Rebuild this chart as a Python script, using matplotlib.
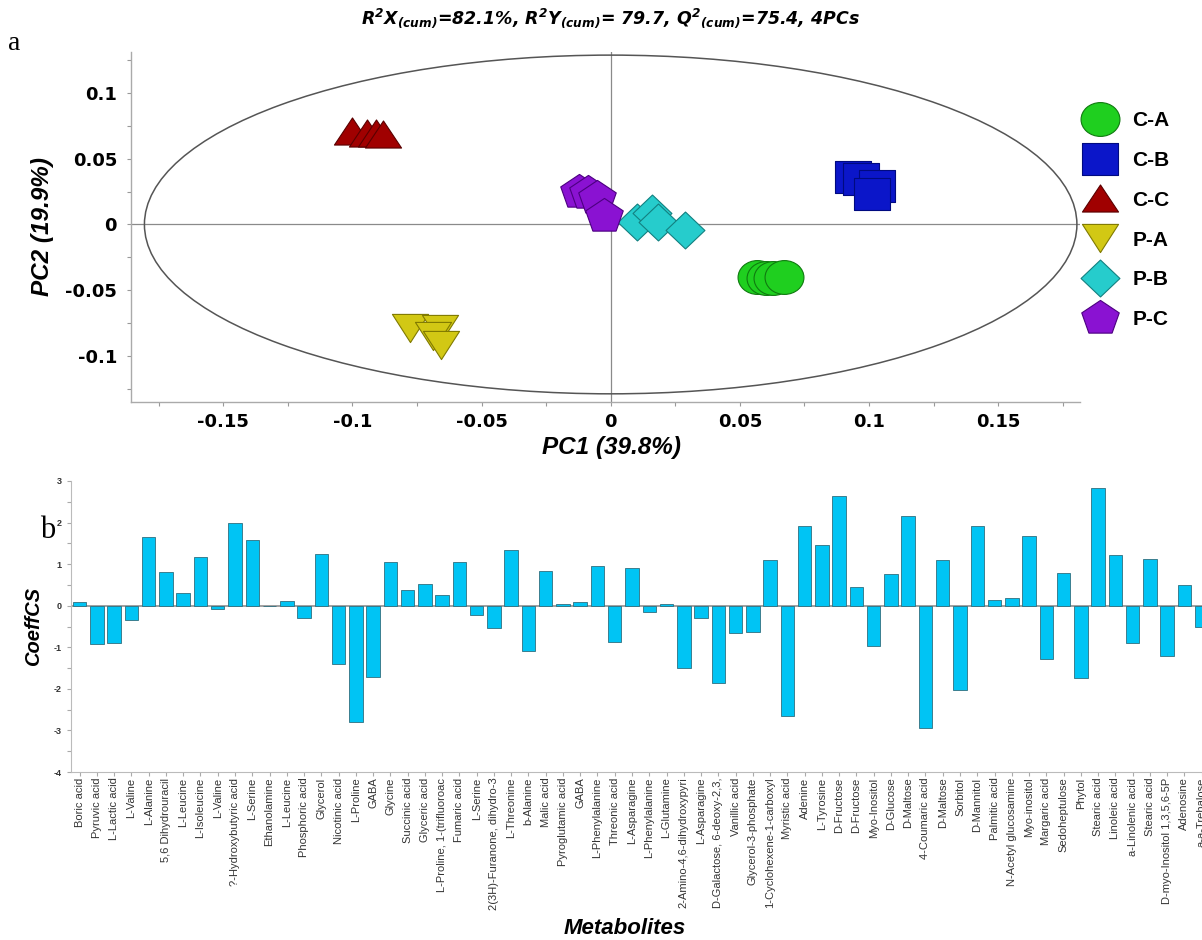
import numpy as np
import matplotlib
matplotlib.use('Agg')
import matplotlib.pyplot as plt
from matplotlib.path import Path
from matplotlib.patches import Ellipse
from matplotlib.lines import Line2D
from matplotlib.ticker import MultipleLocator

plt.rcParams['font.family'] = ['Liberation Sans', 'DejaVu Sans']
plt.rcParams['mathtext.default'] = 'regular'

# score plot (PC1 / PC2)
groups = ['C-A', 'C-B', 'C-C', 'P-A', 'P-B', 'P-C']
ca_x = [0.0565, 0.0600, 0.0630, 0.0670]
ca_y = [-0.0400, -0.0410, -0.0405, -0.0400]
cb_x = [0.0940, 0.0970, 0.1030, 0.1010]
cb_y = [0.0360, 0.0350, 0.0290, 0.0230]
cc_x = [-0.1002, -0.0944, -0.0910, -0.0880]
cc_y = [0.0710, 0.0696, 0.0696, 0.0688]
pa_x = [-0.0777, -0.0661, -0.0687, -0.0657]
pa_y = [-0.0788, -0.0800, -0.0849, -0.0915]
pb_x = [0.0101, 0.0161, 0.0184, 0.0288]
pb_y = [0.0020, 0.0084, 0.0015, -0.0044]
pc_x = [-0.0123, -0.0087, -0.0054, -0.0025]
pc_y = [0.0249, 0.0236, 0.0198, 0.0061]

# coefficient plot
metabolites = [
    'Boric acid', 'Pyruvic acid', 'L-Lactic acid', 'L-Valine', 'L-Alanine',
    '5,6 Dihydrouracil', 'L-Leucine', 'L-Isoleucine', 'L-Valine',
    '?-Hydroxybutyric acid', 'L-Serine', 'Ethanolamine', 'L-Leucine',
    'Phosphoric acid', 'Glycerol', 'Nicotinic acid', 'L-Proline', 'GABA',
    'Glycine', 'Succinic acid', 'Glyceric acid', 'L-Proline, 1-(trifluoroac',
    'Fumaric acid', 'L-Serine', '2(3H)-Furanone, dihydro-3', 'L-Threonine',
    'b-Alanine', 'Malic acid', 'Pyroglutamic acid', 'GABA', 'L-Phenylalanine',
    'Threonic acid', 'L-Asparagine', 'L-Phenylalanine', 'L-Glutamine',
    '2-Amino-4,6-dihydroxypyri', 'L-Asparagine', 'D-Galactose, 6-deoxy-2,3,',
    'Vanillic acid', 'Glycerol-3-phosphate', '1-Cyclohexene-1-carboxyl',
    'Myristic acid', 'Adenine', 'L-Tyrosine', 'D-Fructose', 'D-Fructose',
    'Myo-Inositol', 'D-Glucose', 'D-Maltose', '4-Coumaric acid', 'D-Maltose',
    'Sorbitol', 'D-Mannitol', 'Palmitic acid', 'N-Acetyl glucosamine',
    'Myo-inositol', 'Margaric acid', 'Sedoheptulose', 'Phytol', 'Stearic acid',
    'Linoleic acid', 'a-Linolenic acid', 'Stearic acid',
    'D-myo-Inositol 1,3,5,6-5P', 'Adenosine', 'a-a-Trehalose']
coeffcs = [
    0.08, -0.92, -0.89, -0.35, 1.66, 0.80, 0.30, 1.18, -0.08, 2.00, 1.57,
    0.00, 0.12, -0.30, 1.25, -1.40, -2.80, -1.72, 1.06, 0.38, 0.53, 0.25,
    1.04, -0.22, -0.53, 1.34, -1.09, 0.83, 0.03, 0.08, 0.96, -0.87, 0.91,
    -0.16, 0.05, -1.51, -0.29, -1.86, -0.66, -0.63, 1.09, -2.66, 1.92, 1.47,
    2.65, 0.46, -0.96, 0.76, 2.17, -2.93, 1.10, -2.02, 1.91, 0.13, 0.18,
    1.68, -1.28, 0.79, -1.73, 2.84, 1.21, -0.90, 1.13, -1.20, 0.50, -0.50]


def shape(verts):
    verts = list(verts) + [verts[0]]
    codes = [Path.MOVETO] + [Path.LINETO] * (len(verts) - 2) + [Path.CLOSEPOLY]
    return Path(verts, codes)


circ = Path.unit_circle()
m_circle = Path(circ.vertices * [1.0, 0.87], circ.codes)
m_square = shape([(-1, -0.86), (1, -0.86), (1, 0.86), (-1, 0.86)])
m_tri_up = shape([(0, 0.75), (-1, -0.75), (1, -0.75)])
m_tri_dn = shape([(0, -0.78), (1, 0.78), (-1, 0.78)])
m_diamond = shape([(0, 0.95), (1, 0), (0, -0.95), (-1, 0)])
pent = Path.unit_regular_polygon(5)
m_pent = Path(pent.vertices * [1.09, 1.0], pent.codes)

styles = [
    (ca_x, ca_y, m_circle, 28, '#1fcf1f', '#0f7a0f'),
    (cb_x, cb_y, m_square, 26.5, '#0b16c9', '#000a80'),
    (cc_x, cc_y, m_tri_up, 26, '#a00000', '#5a0000'),
    (pa_x, pa_y, m_tri_dn, 26, '#d2c814', '#807a00'),
    (pb_x, pb_y, m_diamond, 28, '#26cccc', '#138080'),
    (pc_x, pc_y, m_pent, 27, '#8a12d2', '#4c0080'),
]

wide = ['DejaVu Sans']

fig = plt.figure(figsize=(12.02, 9.4), dpi=100)
W, H = 1202.0, 940.0

# ---- panel a ----
ax1 = fig.add_axes([131 / W, 1 - 401.7 / H, (1080 - 131) / W, (401.7 - 51.7) / H])
ax1.set_xlim(-0.1857, 0.1817)
ax1.set_ylim(-0.135, 0.1316)
ax1.axhline(0, color='#8a8a8a', lw=0.9, zorder=1)
ax1.axvline(0, color='#8a8a8a', lw=0.9, zorder=1)
ax1.add_patch(Ellipse((0, 0), 0.361, 0.258, fill=False, ec='#555555', lw=1.1, zorder=1))

handles = []
for (xs, ys, mk, ms, fc, ec), name in zip(styles, groups):
    ax1.plot(xs, ys, ls='none', marker=mk, ms=ms, mfc=fc, mec=ec, mew=0.8, zorder=3)
    handles.append(Line2D([], [], ls='none', marker=mk, ms=ms, mfc=fc, mec=ec,
                          mew=0.8, label=name))

xt = [-0.15, -0.1, -0.05, 0, 0.05, 0.1, 0.15]
yt = [-0.1, -0.05, 0, 0.05, 0.1]
ax1.set_xticks(xt)
ax1.set_xticklabels(['-0.15', '-0.1', '-0.05', '0', '0.05', '0.1', '0.15'],
                    fontsize=13, fontweight='bold', family=wide)
ax1.set_yticks(yt)
ax1.set_yticklabels(['-0.1', '-0.05', '0', '0.05', '0.1'],
                    fontsize=13, fontweight='bold', family=wide)
ax1.xaxis.set_minor_locator(MultipleLocator(0.025))
ax1.yaxis.set_minor_locator(MultipleLocator(0.025))
ax1.tick_params(which='both', color='#999999', width=0.8, length=3)
ax1.tick_params(axis='x', pad=5)
ax1.tick_params(axis='y', pad=7)
for s in ['top', 'right']:
    ax1.spines[s].set_visible(False)
for s in ['left', 'bottom']:
    ax1.spines[s].set_color('#aaaaaa')
    ax1.spines[s].set_linewidth(1.0)

ax1.set_xlabel('PC1 (39.8%)', fontsize=17.5, fontweight='bold', style='italic')
ax1.xaxis.set_label_coords((612 - 131) / 949, (401.7 - 436) / 350)
ax1.set_ylabel('PC2 (19.9%)', fontsize=17.5, fontweight='bold', style='italic')
ax1.yaxis.set_label_coords((54 - 131) / 949, 0.5)

fig.legend(handles=handles, loc='upper left', bbox_to_anchor=(1079 / W, 1 - 111 / H),
           frameon=False, prop={'weight': 'bold', 'size': 15},
           handlelength=2.0, handletextpad=0.55, labelspacing=1.0, borderpad=0,
           borderaxespad=0)

fig.text(610 / W, 1 - 18 / H,
         'R$^2$X$_{(cum)}$=82.1%, R$^2$Y$_{(cum)}$= 79.7, Q$^2$$_{(cum)}$=75.4, 4PCs',
         ha='center', va='center', fontsize=12.5, fontweight='bold', style='italic',
         family=wide)
fig.text(8 / W, 1 - 43 / H, 'a', fontsize=20, family='Liberation Serif',
         ha='left', va='center')

# ---- panel b ----
ax2 = fig.add_axes([71 / W, 1 - 772 / H, 1 - 71 / W, (772 - 481) / H])
idx = np.arange(len(metabolites))
ax2.bar(idx, coeffcs, width=0.78, color='#00c4f4', edgecolor='#2f6f7f',
        linewidth=0.6, zorder=3)
ax2.axhline(0, color='#a0a0a0', lw=1.4, zorder=2)
ax2.set_xlim(-0.5, 65.02)
ax2.set_ylim(-4, 3)
ax2.set_xticks(idx)
ax2.set_xticklabels(metabolites, rotation=90, fontsize=8, color='#333333')
ax2.set_yticks(range(-4, 4))
ax2.set_yticklabels([str(v) for v in range(-4, 4)], fontsize=6.5,
                    fontweight='bold', color='#333333')
ax2.yaxis.set_minor_locator(MultipleLocator(0.5))
ax2.tick_params(which='both', color='#aaaaaa', width=0.8, length=3)
ax2.tick_params(axis='x', pad=1)
for s in ['top', 'right']:
    ax2.spines[s].set_visible(False)
for s in ['left', 'bottom']:
    ax2.spines[s].set_color('#bbbbbb')
ax2.set_ylabel('CoeffCS', fontsize=14.5, fontweight='bold', style='italic')
ax2.yaxis.set_label_coords((43 - 71) / 1131, 0.5)

fig.text(625 / W, 1 / H, 'Metabolites', ha='center', va='bottom',
         fontsize=16, fontweight='bold', style='italic')
fig.text(40 / W, 1 - 530 / H, 'b', fontsize=22, family='Liberation Serif',
         ha='left', va='center')

fig.savefig('out.png', dpi=100)
